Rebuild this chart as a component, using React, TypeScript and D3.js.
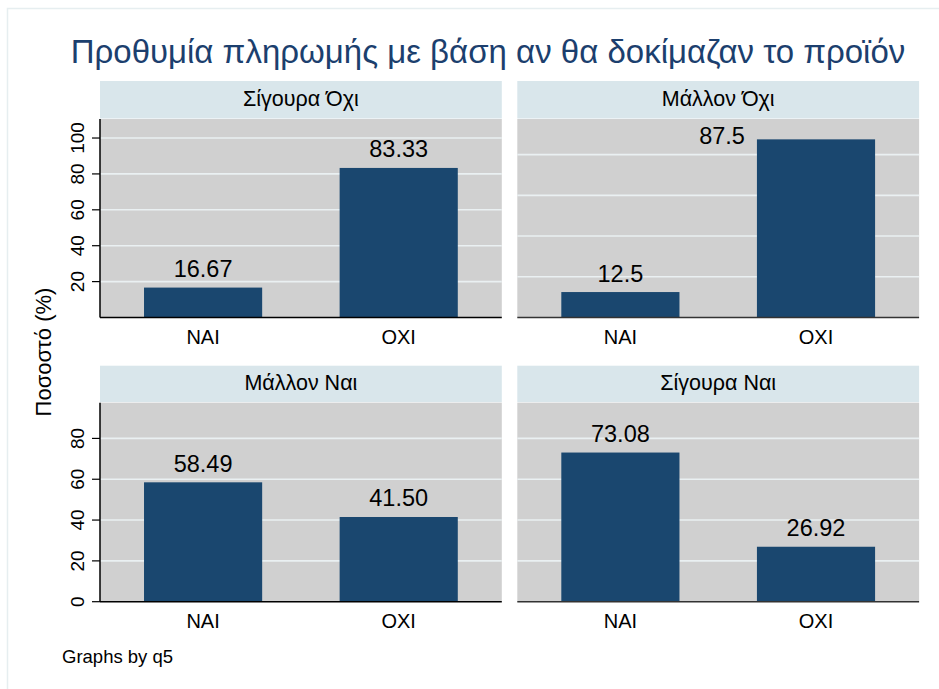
import * as d3 from "d3";
import React from "react";

const title = "Προθυμία πληρωμής με βάση αν θα δοκίμαζαν το προϊόν";
const yTitle = "Ποσοστό (%)";
const note = "Graphs by q5";

const panels = ["Σίγουρα Όχι", "Μάλλον Όχι", "Μάλλον Ναι", "Σίγουρα Ναι"];
const categories = ["NAI", "OXI"];
const valuesSigouraOxi = [16.67, 83.33];
const valuesMallonOxi = [12.5, 87.5];
const valuesMallonNai = [58.49, 41.5];
const valuesSigouraNai = [73.08, 26.92];
const labelsSigouraOxi = ["16.67", "83.33"];
const labelsMallonOxi = ["12.5", "87.5"];
const labelsMallonNai = ["58.49", "41.50"];
const labelsSigouraNai = ["73.08", "26.92"];

// each panel got its own y range in the original
const yMaxTopLeft = 110.6;
const yMaxOthers = 97.5;
const ticksTopLeft = [20, 40, 60, 80, 100];
const ticksOthers = [0, 20, 40, 60, 80];

const FONT = "'Liberation Sans', Arial, Helvetica, sans-serif";

export default function App() {
  const ref = React.useRef<HTMLDivElement>(null);

  React.useEffect(() => {
    const el = ref.current;
    if (!el) return;
    el.innerHTML = "";
    const W = 939;
    const H = 689;

    const svg = d3
      .select(el)
      .append("svg")
      .attr("width", W)
      .attr("height", H)
      .style("position", "absolute")
      .style("left", "0px")
      .style("top", "0px")
      .style("font-family", FONT);

    svg.append("rect").attr("width", W).attr("height", H).attr("fill", "#ffffff");
    svg
      .append("rect")
      .attr("x", 7.5)
      .attr("y", 8.5)
      .attr("width", W + 10)
      .attr("height", H + 10)
      .attr("fill", "none")
      .attr("stroke", "#e6eef0")
      .attr("stroke-width", 1.5);

    // title
    svg
      .append("text")
      .attr("x", 488)
      .attr("y", 63)
      .attr("text-anchor", "middle")
      .attr("fill", "#1c3f6e")
      .style("font-size", "33px")
      .text(title);

    // y axis title
    svg
      .append("text")
      .attr("transform", "translate(51, 352) rotate(-90)")
      .attr("text-anchor", "middle")
      .attr("fill", "#000")
      .style("font-size", "22px")
      .text(yTitle);

    svg
      .append("text")
      .attr("x", 62)
      .attr("y", 663)
      .attr("fill", "#000")
      .style("font-size", "18.5px")
      .text(note);

    const cols = [100, 517.3];
    const colW = 401.8;
    const rows = [
      { strip: 81, top: 119, base: 317.5 },
      { strip: 365.7, top: 402.7, base: 601.7 },
    ];
    const values = [valuesSigouraOxi, valuesMallonOxi, valuesMallonNai, valuesSigouraNai];
    const labels = [labelsSigouraOxi, labelsMallonOxi, labelsMallonNai, labelsSigouraNai];

    panels.forEach((name, i) => {
      const r = rows[Math.floor(i / 2)];
      const left = cols[i % 2];
      const isLeft = i % 2 === 0;
      const g = svg.append("g");

      const x = d3
        .scaleBand()
        .domain(categories)
        .range([left, left + colW])
        .paddingInner(0.396)
        .paddingOuter(0.225);
      const yMax = i === 0 ? yMaxTopLeft : yMaxOthers;
      const y = d3.scaleLinear().domain([0, yMax]).range([r.base, r.top]);
      const ticks = i === 0 ? ticksTopLeft : ticksOthers;

      // strip
      g.append("rect")
        .attr("x", left)
        .attr("y", r.strip)
        .attr("width", colW)
        .attr("height", r.top - r.strip - 0.5)
        .attr("fill", "#d9e6eb");
      g.append("text")
        .attr("x", left + colW / 2)
        .attr("y", r.strip + 24.5)
        .attr("text-anchor", "middle")
        .attr("fill", "#000")
        .style("font-size", "21.5px")
        .text(name);

      // plot region
      g.append("rect")
        .attr("x", left)
        .attr("y", r.top)
        .attr("width", colW)
        .attr("height", r.base - r.top)
        .attr("fill", "#d0d0d0");

      // gridlines
      g.selectAll(".grid")
        .data(ticks.filter((t) => t > 0))
        .enter()
        .append("line")
        .attr("x1", left)
        .attr("x2", left + colW)
        .attr("y1", (d) => y(d))
        .attr("y2", (d) => y(d))
        .attr("stroke", "#eaf0f2")
        .attr("stroke-width", 1.6);

      // bars
      const vals = values[i];
      g.selectAll(".bar")
        .data(vals)
        .enter()
        .append("rect")
        .attr("x", (d, j) => x(categories[j]) as number)
        .attr("y", (d) => y(d))
        .attr("width", x.bandwidth())
        .attr("height", (d) => r.base - y(d))
        .attr("fill", "#1a476f");

      // bar labels
      vals.forEach((v, j) => {
        const bx = x(categories[j]) as number;
        const top = y(v);
        const fits = top - 11 - 16 > r.top;
        g.append("text")
          .attr("x", fits ? bx + x.bandwidth() / 2 : bx - 12)
          .attr("y", fits ? top - 10.5 : top + 5)
          .attr("text-anchor", fits ? "middle" : "end")
          .attr("fill", "#000")
          .style("font-size", "23.5px")
          .text(labels[i][j]);
      });

      // x axis
      g.append("line")
        .attr("x1", left)
        .attr("x2", left + colW)
        .attr("y1", r.base)
        .attr("y2", r.base)
        .attr("stroke", isLeft ? "#000" : "#333")
        .attr("stroke-width", 1.5);
      categories.forEach((c) => {
        g.append("text")
          .attr("x", (x(c) as number) + x.bandwidth() / 2)
          .attr("y", r.base + 26)
          .attr("text-anchor", "middle")
          .attr("fill", "#000")
          .style("font-size", "20px")
          .text(c);
      });

      // y axis (left column only)
      if (isLeft) {
        g.append("line")
          .attr("x1", left)
          .attr("x2", left)
          .attr("y1", r.top)
          .attr("y2", r.base)
          .attr("stroke", "#000")
          .attr("stroke-width", 1.5);
        ticks.forEach((t) => {
          g.append("line")
            .attr("x1", left - 8)
            .attr("x2", left)
            .attr("y1", y(t))
            .attr("y2", y(t))
            .attr("stroke", "#000")
            .attr("stroke-width", 1.2);
          g.append("text")
            .attr("transform", `translate(${left - 16}, ${y(t)}) rotate(-90)`)
            .attr("text-anchor", "middle")
            .attr("fill", "#000")
            .style("font-size", "19px")
            .text(String(t));
        });
      }
    });
  }, []);

  return <div ref={ref}></div>;
}
